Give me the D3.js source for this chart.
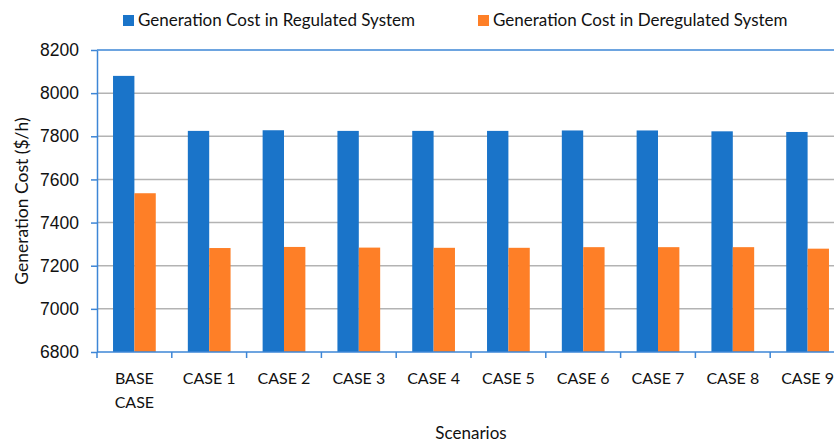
<!DOCTYPE html>
<html>
<head>
<meta charset="utf-8">
<script src="https://cdn.jsdelivr.net/npm/d3@7"></script>
<style>
  body { margin: 0; background: #fff; }
  svg { display: block; font-family: Lato, "Open Sans", sans-serif; }
  .grid line { stroke: #b3b3b3; stroke-width: 1.5; }
  .axis path, .axis line { stroke: #3d86d6; stroke-width: 1.5; }
  .axis text { font-size: 16px; fill: #111; }
  .yaxis text { font-size: 17.5px; }
</style>
</head>
<body>
<div id="chart"></div>
<script>
// data
var scenarios = ["BASE CASE", "CASE 1", "CASE 2", "CASE 3", "CASE 4", "CASE 5", "CASE 6", "CASE 7", "CASE 8", "CASE 9"];
var regulated = [8080, 7825, 7828, 7825, 7825, 7825, 7827, 7827, 7823, 7820];
var deregulated = [7536, 7282, 7287, 7284, 7283, 7283, 7286, 7286, 7286, 7279];
var seriesNames = ["Generation Cost in Regulated System", "Generation Cost in Deregulated System"];
var colors = ["#1a74c9", "#fe7f27"];
var yTicks = [6800, 7000, 7200, 7400, 7600, 7800, 8000, 8200];

var W = 834, H = 443;
var m = { left: 97, top: 50 };
var w = 748, h = 302;

var svg = d3.select("#chart")
    .append("svg")
    .attr("width", W)
    .attr("height", H);

var g = svg.append("g")
    .attr("transform", "translate(" + m.left + "," + m.top + ")");

var x = d3.scaleBand().domain(scenarios).range([0, w]).paddingInner(0).paddingOuter(0);
var y = d3.scaleLinear().domain([6800, 8200]).range([h, 0]);
// two bars per category, gap width 150%
var x1 = d3.scaleBand().domain([0, 1]).range([0, x.bandwidth()]).paddingInner(0).paddingOuter(0.75);

// gridlines
g.append("g")
    .attr("class", "grid")
    .selectAll("line")
    .data(yTicks.slice(1, -1))
    .join("line")
    .attr("x1", 0)
    .attr("x2", w)
    .attr("y1", d => y(d))
    .attr("y2", d => y(d));

// top border
g.append("line")
    .attr("x1", 0).attr("x2", w)
    .attr("y1", y(8200)).attr("y2", y(8200))
    .attr("stroke", "#3d86d6").attr("stroke-width", 1.5);

// bars
var rows = scenarios.map((s, i) => ({ s: s, v: [regulated[i], deregulated[i]] }));
var groups = g.selectAll(".grp")
    .data(rows)
    .join("g")
    .attr("class", "grp")
    .attr("transform", d => "translate(" + x(d.s) + ",0)");

groups.selectAll("rect")
    .data(d => d.v.map((v, k) => ({ k: k, v: v })))
    .join("rect")
    .attr("x", d => x1(d.k))
    .attr("width", x1.bandwidth())
    .attr("y", d => y(d.v))
    .attr("height", d => h - y(d.v))
    .attr("fill", d => colors[d.k]);

// y axis
g.append("g")
    .attr("class", "axis yaxis")
    .call(d3.axisLeft(y).tickValues(yTicks).tickSize(6).tickSizeOuter(0).tickPadding(12).tickFormat(d3.format("d")));

// x axis with ticks between categories
var xAxis = g.append("g")
    .attr("class", "axis")
    .attr("transform", "translate(0," + h + ")");
xAxis.append("line")
    .attr("x1", 0).attr("x2", w);
xAxis.selectAll(".tk")
    .data(scenarios)
    .join("line")
    .attr("class", "tk")
    .attr("x1", d => x(d)).attr("x2", d => x(d))
    .attr("y1", 0).attr("y2", 6);
xAxis.selectAll("text")
    .data(scenarios)
    .join("text")
    .attr("x", d => x(d) + x.bandwidth() / 2)
    .attr("y", 32)
    .attr("text-anchor", "middle")
    .each(function (d) {
        var parts = d === "BASE CASE" ? ["BASE", "CASE"] : [d];
        var t = d3.select(this);
        parts.forEach((p, i) => {
            t.append("tspan")
                .attr("x", x(d) + x.bandwidth() / 2)
                .attr("dy", i === 0 ? 0 : 24)
                .text(p);
        });
    });

// axis titles
svg.append("text")
    .attr("x", m.left + 374)
    .attr("y", 439)
    .attr("text-anchor", "middle")
    .style("font-size", "17px")
    .attr("fill", "#111")
    .text("Scenarios");

svg.append("text")
    .attr("transform", "translate(28," + (m.top + h / 2) + ") rotate(-90)")
    .attr("text-anchor", "middle")
    .style("font-size", "17.5px")
    .attr("fill", "#111")
    .text("Generation Cost ($/h)");

// legend
var legendX = [123, 478];
var legend = svg.selectAll(".leg")
    .data(seriesNames)
    .join("g")
    .attr("class", "leg")
    .attr("transform", (d, i) => "translate(" + legendX[i] + ",15)");
legend.append("rect")
    .attr("width", 11).attr("height", 11)
    .attr("fill", (d, i) => colors[i]);
legend.append("text")
    .attr("x", 15)
    .attr("y", 11)
    .style("font-size", "17px")
    .attr("fill", "#111")
    .text(d => d);
</script>
</body>
</html>
